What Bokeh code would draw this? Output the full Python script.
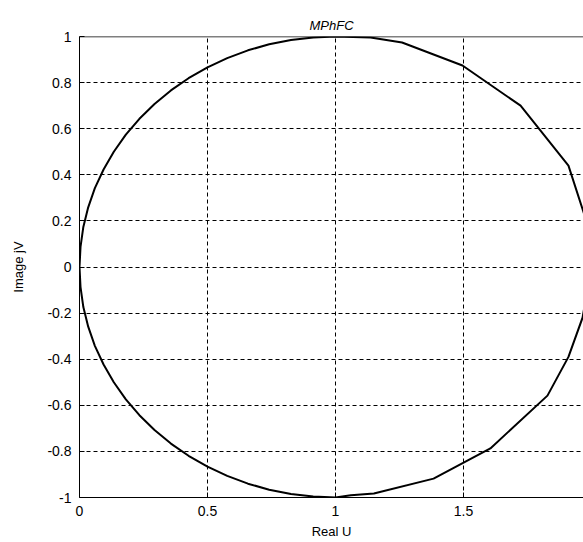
from bokeh.plotting import figure
from bokeh.models import Range1d, FixedTicker, CustomJSTickFormatter, Span, Title
from bokeh.embed import file_html
from bokeh.resources import INLINE

# Locus points (Real U, Image jV)
real_u = [1.000, 0.913, 0.826, 0.741, 0.658, 0.577, 0.500, 0.426, 0.357, 0.293,
          0.234, 0.181, 0.134, 0.094, 0.060, 0.034, 0.015, 0.004, 0.000,
          0.004, 0.015, 0.034, 0.060, 0.094, 0.134, 0.181, 0.234, 0.293,
          0.357, 0.426, 0.500, 0.577, 0.658, 0.741, 0.826, 0.913, 1.000,
          1.060, 1.150, 1.383, 1.605, 1.828, 1.910, 1.965, 2.000,
          1.980, 1.910, 1.723, 1.496, 1.260, 1.137, 1.000]
image_jv = [1.000, 0.996, 0.985, 0.966, 0.940, 0.906, 0.866, 0.819, 0.766, 0.707,
            0.643, 0.574, 0.500, 0.423, 0.342, 0.259, 0.174, 0.087, 0.000,
            -0.087, -0.174, -0.259, -0.342, -0.423, -0.500, -0.574, -0.643, -0.707,
            -0.766, -0.819, -0.866, -0.906, -0.940, -0.966, -0.985, -0.996, -1.000,
            -0.990, -0.983, -0.918, -0.787, -0.558, -0.390, -0.220, 0.000,
            0.200, 0.440, 0.700, 0.874, 0.974, 0.996, 1.000]

x_ticks = [0, 0.5, 1, 1.5]
y_ticks = [-1, -0.8, -0.6, -0.4, -0.2, 0, 0.2, 0.4, 0.6, 0.8, 1]

title_text = "MPhFC"
x_label = "Real U"
y_label = "Image jV"

FONT = "Liberation Sans"

p = figure(width=583, height=542, output_backend="svg", toolbar_location=None,
           x_range=Range1d(0, 1.96875), y_range=Range1d(-1, 1),
           min_border_left=79, min_border_right=0, min_border_top=36, min_border_bottom=45)
p.outline_line_color = None
p.background_fill_color = "white"
p.border_fill_color = "white"

p.title = Title(text=title_text, align="center", text_font=FONT, text_font_size="13px",
                text_font_style="italic", text_color="black", standoff=8)

fmt = CustomJSTickFormatter(code="return tick.toFixed(1).replace(/\\.0$/, '');")

for ax in (p.xaxis[0], p.yaxis[0]):
    ax.major_label_text_font = FONT
    ax.major_label_text_font_size = "14px"
    ax.major_label_text_color = "black"
    ax.axis_label_text_font = FONT
    ax.axis_label_text_font_size = "13px"
    ax.axis_label_text_font_style = "normal"
    ax.axis_label_text_color = "black"
    ax.axis_line_color = "black"
    ax.major_tick_line_color = "black"
    ax.major_tick_in = 5
    ax.major_tick_out = 0
    ax.minor_tick_line_color = None
    ax.formatter = fmt

p.xaxis[0].ticker = FixedTicker(ticks=x_ticks)
p.yaxis[0].ticker = FixedTicker(ticks=y_ticks)
p.xaxis[0].axis_label = x_label
p.yaxis[0].axis_label = y_label
p.xaxis[0].major_label_standoff = 8
p.xaxis[0].axis_label_standoff = 5
p.yaxis[0].major_label_standoff = 8
p.yaxis[0].axis_label_standoff = 18

for g in (p.xgrid[0], p.ygrid[0]):
    g.grid_line_color = "black"
    g.grid_line_dash = "4 3"
    g.grid_line_width = 1
p.xgrid[0].ticker = FixedTicker(ticks=x_ticks)
p.ygrid[0].ticker = FixedTicker(ticks=y_ticks)

# top border of the box
p.add_layout(Span(location=1, dimension="width", line_color="black", line_width=1.5))

p.line(real_u, image_jv, line_color="black", line_width=2)

open("out.html", "w").write(file_html(p, INLINE))
